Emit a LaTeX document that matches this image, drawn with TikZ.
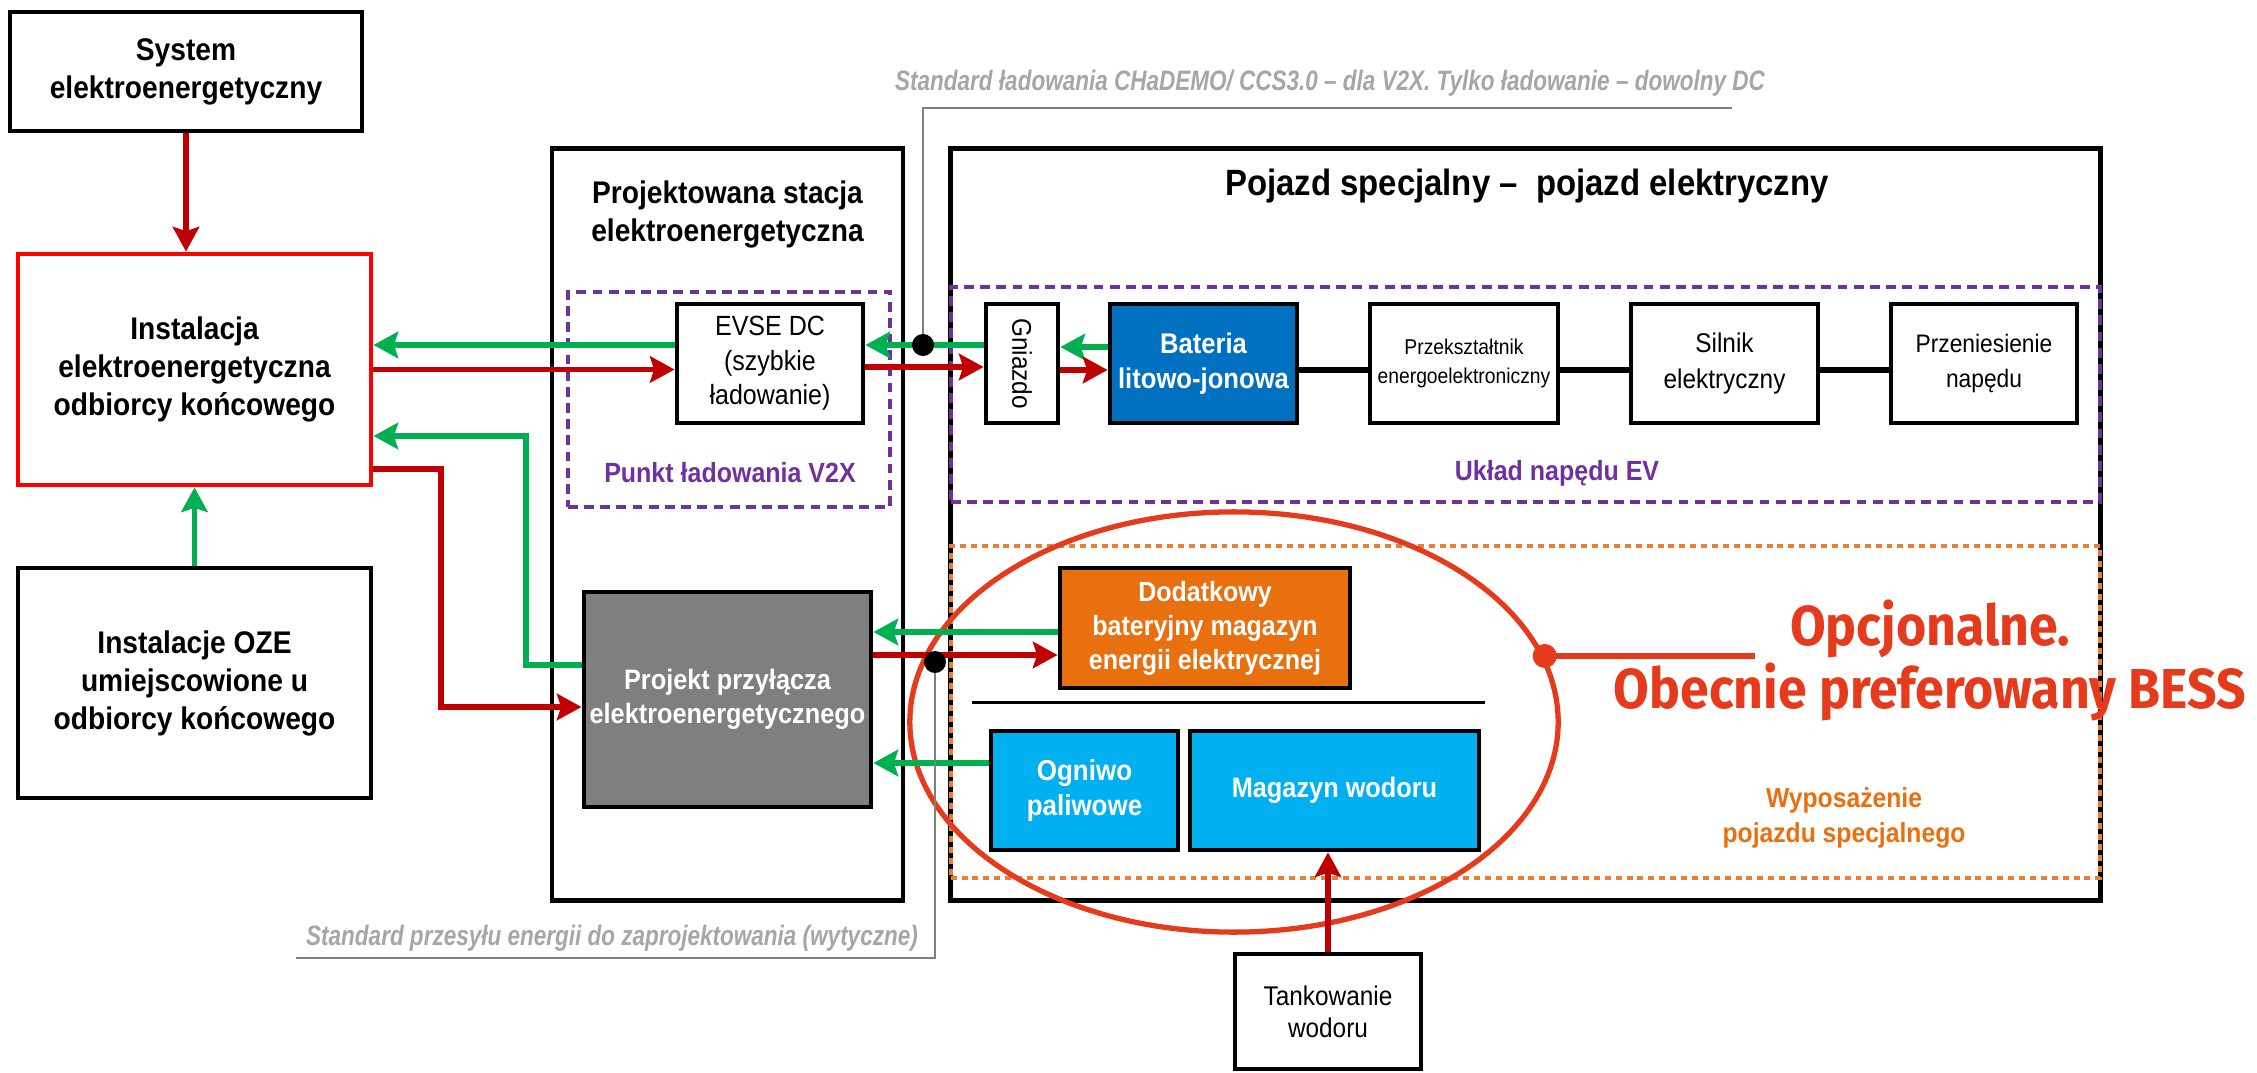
\documentclass[tikz,border=0pt]{standalone}
\usepackage{fontspec}
\setmainfont{Liberation Sans}[FakeStretch=0.9]
\newfontfamily\stdfont{Liberation Sans}[FakeStretch=0.8]
\newfontfamily\notefont{Fira Sans}[FakeStretch=0.92]
\usepackage{xcolor}
\usepackage{graphicx}
\usepackage{tikz}
\usetikzlibrary{shapes,arrows.meta,positioning,calc}

\definecolor{pwred}{HTML}{C00000}
\definecolor{pwgreen}{HTML}{00B050}
\definecolor{v2xpurple}{HTML}{7030A0}
\definecolor{eqorange}{HTML}{ED7D31}
\definecolor{eqtext}{HTML}{E8700F}
\definecolor{bessorange}{HTML}{E8700F}
\definecolor{batblue}{HTML}{0070C0}
\definecolor{h2blue}{HTML}{00B0F0}
\definecolor{notered}{HTML}{E53A1C}
\definecolor{stdgray}{HTML}{A6A6A6}
\definecolor{linegray}{HTML}{808080}
\definecolor{boxgray}{HTML}{7F7F7F}

\begin{document}
\begin{tikzpicture}[x=0.01cm, y=-0.01cm,
    blk/.style={draw, line width=1.35pt, align=center, inner sep=0pt},
    bigtxt/.style={font=\fontsize{8.9}{10.8}\selectfont\bfseries, align=center},
    regtxt/.style={font=\fontsize{7.9}{9.8}\selectfont},
    whitetxt/.style={text=white, font=\fontsize{8}{9.8}\selectfont\bfseries},
    v2xframe/.style={draw=v2xpurple, line width=1.1pt, dash pattern=on 2.8pt off 1.8pt},
    eqframe/.style={draw=eqorange, line width=1.1pt, dash pattern=on 1.7pt off 1.4pt},
    grouptxt/.style={font=\fontsize{7.9}{9.6}\selectfont\bfseries},
    stdtxt/.style={text=stdgray, font=\stdfont\fontsize{8}{9.6}\selectfont\bfseries\itshape},
    stdline/.style={draw=linegray, line width=0.6pt},
    pwr/.style={draw=pwred, line width=1.7pt, -{Stealth[length=7pt,width=7.5pt,inset=1.2pt]}},
    ret/.style={draw=pwgreen, line width=1.7pt, -{Stealth[length=7pt,width=7.5pt,inset=1.2pt]}},
    chainline/.style={draw, line width=1.8pt}]

  \useasboundingbox (0,0) rectangle (2257,1073);

  \node[blk, bigtxt, minimum width=3.52cm, minimum height=1.19cm] (sys) at (186,71.5) {System\\elektroenergetyczny};
  \node[blk, bigtxt, draw=red, minimum width=3.53cm, minimum height=2.31cm] (inst) at (194.5,369.5) {Instalacja\\elektroenergetyczna\\odbiorcy końcowego};
  \node[blk, bigtxt, minimum width=3.53cm, minimum height=2.30cm] (oze) at (194.5,683) {Instalacje OZE\\umiejscowione u\\odbiorcy końcowego};

  \node[blk, minimum width=3.51cm, minimum height=7.51cm] (station) at (727.5,524.5) {};
  \node[bigtxt] (sttitle) at (727.5,214) {Projektowana stacja\\elektroenergetyczna};
  \node[v2xframe, minimum width=3.22cm, minimum height=2.15cm] (v2x) at (729,399.5) {};
  \node[blk, regtxt, minimum width=1.86cm, minimum height=1.19cm] (evse) at (770,363.5) {EVSE DC\\(szybkie\\ładowanie)};
  \node[grouptxt, text=v2xpurple] (v2xlbl) at (730,473) {Punkt ładowania V2X};
  \node[blk, whitetxt, fill=boxgray, minimum width=2.87cm, minimum height=2.15cm] (przyl) at (727.5,699.5) {Projekt przyłącza\\elektroenergetycznego};

  \node[blk, minimum width=11.49cm, minimum height=7.51cm] (vehicle) at (1525.5,524.5) {};
  \node[font=\fontsize{10.4}{12}\selectfont\bfseries] (vtitle) at (1527,186) {Pojazd specjalny –\enspace pojazd elektryczny};
  \node[v2xframe, minimum width=11.49cm, minimum height=2.15cm] (evbox) at (1525.5,394.5) {};
  \node[eqframe, minimum width=11.49cm, minimum height=3.32cm] (equip) at (1525.5,712) {};

  \node[blk, minimum width=0.72cm, minimum height=1.19cm, font=\fontsize{7.7}{9}\selectfont] (gniazdo) at (1022,363.5) {\rotatebox{-90}{Gniazdo}};
  \node[blk, whitetxt, fill=batblue, font=\fontsize{8.1}{10}\selectfont\bfseries, minimum width=1.87cm, minimum height=1.19cm] (bat) at (1203.5,363.5) {Bateria\\litowo-jonowa};
  \node[blk, font=\fontsize{6.1}{8}\selectfont, minimum width=1.88cm, minimum height=1.19cm] (conv) at (1464,363.5) {Przekształtnik\\energoelektroniczny};
  \node[blk, font=\fontsize{7.7}{10}\selectfont, minimum width=1.87cm, minimum height=1.19cm] (motor) at (1724.5,363.5) {Silnik\\elektryczny};
  \node[blk, font=\fontsize{7.2}{10}\selectfont, minimum width=1.86cm, minimum height=1.19cm] (trans) at (1984,363.5) {Przeniesienie\\napędu};
  \node[grouptxt, text=v2xpurple] (evlbl) at (1557,473) {Układ napędu EV};

  \node[blk, whitetxt, fill=bessorange, font=\fontsize{7.9}{9.7}\selectfont\bfseries, minimum width=2.90cm, minimum height=1.20cm] (bess) at (1205,628) {Dodatkowy\\bateryjny magazyn\\energii elektrycznej};
  \node[blk, whitetxt, fill=h2blue, font=\fontsize{8.2}{9.7}\selectfont\bfseries, minimum width=1.87cm, minimum height=1.19cm] (fc) at (1084.5,790.5) {Ogniwo\\paliwowe};
  \node[blk, whitetxt, fill=h2blue, minimum width=2.89cm, minimum height=1.19cm] (h2) at (1334.5,790.5) {Magazyn wodoru};
  \node[blk, font=\fontsize{7.7}{9.1}\selectfont, minimum width=1.86cm, minimum height=1.15cm] (tank) at (1328,1011.5) {Tankowanie\\wodoru};
  \node[grouptxt, text=eqtext, align=center, font=\fontsize{7.8}{10.2}\selectfont\bfseries] (eqlbl) at (1844,818) {Wyposażenie\\pojazdu specjalnego};
  \draw[line width=0.9pt] ($(fc.north west)+(-17,-26)$) -- ($(h2.north east)+(4,-26)$);

  \node[draw=notered, line width=1.5pt, ellipse, minimum width=6.48cm, minimum height=4.2cm, inner sep=0pt] (optgroup) at (1234,722) {};

  \draw[pwr] (sys.south) -- (sys.south |- inst.north);
  \draw[ret] (oze.north) -- (inst.south);

  \coordinate (a3s) at ($(evse.west)+(0,-18.5)$);
  \draw[ret] (a3s) -- (a3s -| inst.east);
  \draw[pwr] (inst.east) -- (inst.east -| evse.west);
  \coordinate (a5s) at ($(przyl.west)+(0,-34.5)$);
  \coordinate (a5e) at ($(inst.east)+(0,66.5)$);
  \draw[ret] (a5s) -- ++(-56,0) |- (a5e);
  \coordinate (a6s) at ($(inst.east)+(0,99.5)$);
  \coordinate (a6e) at ($(przyl.west)+(0,7.5)$);
  \draw[pwr] (a6s) -- ++(68,0) |- (a6e);

  \coordinate (a7s) at ($(gniazdo.west)+(0,-18.5)$);
  \draw[ret] (a7s) -- (a7s -| evse.east);
  \coordinate (a8s) at ($(evse.east)+(0,3.5)$);
  \draw[pwr] (a8s) -- (a8s -| gniazdo.west);
  \coordinate (a9s) at ($(bat.west)+(0,-16.5)$);
  \draw[ret] (a9s) -- (a9s -| gniazdo.east);
  \coordinate (a10s) at ($(gniazdo.east)+(0,6.5)$);
  \draw[pwr] (a10s) -- (a10s -| bat.west);
  \coordinate (c0) at ($(bat.east)+(0,6.5)$);
  \draw[chainline] (c0) -- (c0 -| conv.west) (c0 -| conv.east) -- (c0 -| motor.west) (c0 -| motor.east) -- (c0 -| trans.west);

  \coordinate (a11s) at ($(bess.west)+(0,4)$);
  \draw[ret] (a11s) -- (a11s -| przyl.east);
  \coordinate (a12s) at ($(przyl.east)+(0,-44.5)$);
  \draw[pwr] (a12s) -- (a12s -| bess.west);
  \coordinate (a13s) at ($(fc.west)+(0,-27.5)$);
  \draw[ret] (a13s) -- (a13s -| przyl.east);
  \draw[pwr] (tank.north) -- (tank.north |- h2.south);

  \coordinate (tapA) at (923,345);
  \coordinate (endA) at (1732,108);
  \draw[stdline] (tapA) |- (endA);
  \fill (tapA) circle (0.11cm);
  \node[stdtxt] (lblcharge) at (1330,83) {Standard ładowania CHaDEMO/ CCS3.0 – dla V2X. Tylko ładowanie – dowolny DC};

  \coordinate (tapB) at (935,662);
  \coordinate (endB) at (296,958);
  \draw[stdline] (tapB) |- (endB);
  \fill (tapB) circle (0.11cm);
  \node[stdtxt] (lbldesign) at (612,938) {Standard przesyłu energii do zaprojektowania (wytyczne)};

  \fill[notered] (optgroup.12.8) circle (0.12cm);
  \draw[notered, line width=1.8pt] (optgroup.12.8) -- ++(210,0);
  \node[text=notered, align=center, font=\notefont\fontsize{16}{17.9}\selectfont\bfseries] (optnote) at (1930,660) {Opcjonalne.\\Obecnie preferowany BESS};

\end{tikzpicture}
\end{document}
